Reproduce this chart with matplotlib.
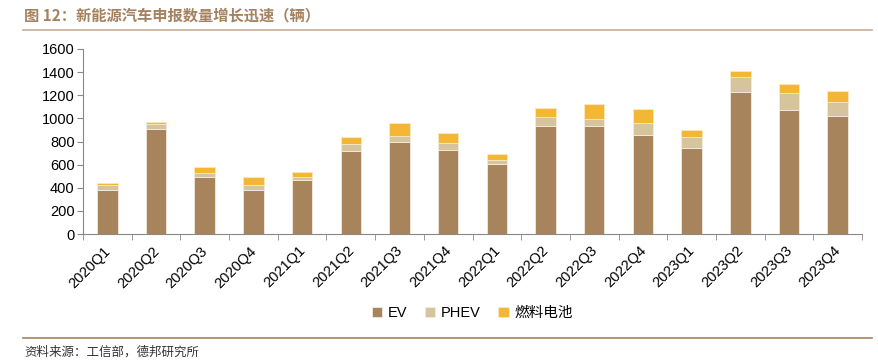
import numpy as np
import matplotlib.pyplot as plt
import matplotlib.transforms as mtransforms
from matplotlib.lines import Line2D

plt.rcParams['font.family'] = ['Liberation Sans', 'Noto Sans CJK SC', 'DejaVu Sans']

quarters = ["2020Q1", "2020Q2", "2020Q3", "2020Q4", "2021Q1", "2021Q2", "2021Q3", "2021Q4",
            "2022Q1", "2022Q2", "2022Q3", "2022Q4", "2023Q1", "2023Q2", "2023Q3", "2023Q4"]
ev = [380, 911, 490, 383, 470, 721, 793, 729, 608, 931, 937, 853, 747, 1231, 1075, 1023]
phev = [44, 37, 38, 38, 23, 60, 55, 55, 32, 78, 55, 104, 89, 124, 145, 119]
fuel_cell = [17, 21, 51, 75, 43, 58, 112, 92, 49, 81, 132, 121, 64, 58, 80, 95]

c_ev = "#a8845c"
c_phev = "#d5c49c"
c_fc = "#f4b635"
c_title = "#a5825f"

fig = plt.figure(figsize=(8.79, 3.6), dpi=100)
ax = fig.add_axes([83/879, 1 - 234/360, (862-83)/879, (234-49)/360])

x = np.arange(len(quarters))
w = 0.42
ax.bar(x, ev, w, color=c_ev, edgecolor="#f3ebe0", linewidth=0.6, label="EV")
ax.bar(x, phev, w, bottom=ev, color=c_phev, edgecolor="#f3ebe0", linewidth=0.6, label="PHEV")
ax.bar(x, fuel_cell, w, bottom=np.array(ev) + np.array(phev), color=c_fc,
       edgecolor="#fbe9c0", linewidth=0.6, label="燃料电池")

ax.set_xlim(-0.5, len(quarters) - 0.5)
ax.set_ylim(0, 1600)
ax.set_yticks(range(0, 1601, 200))
ax.tick_params(axis="y", labelsize=10.5, length=4, color="#888888", pad=2)
ax.set_xticks(x)
ax.set_xticklabels(quarters, rotation=45, ha="right", rotation_mode="anchor", fontsize=10.5)
ax.tick_params(axis="x", length=0, pad=7)
shift = mtransforms.ScaledTranslation(-4/100, 0, fig.dpi_scale_trans)
for lbl in ax.get_xticklabels():
    lbl.set_transform(lbl.get_transform() + shift)
ax.set_xticks(np.arange(-0.5, len(quarters)), minor=True)
ax.tick_params(axis="x", which="minor", length=4, color="#888888")
for s in ["top", "right"]:
    ax.spines[s].set_visible(False)
for s in ["left", "bottom"]:
    ax.spines[s].set_color("#888888")

ax.legend(loc="center", bbox_to_anchor=(0.5, (313 - 234) / -(234 - 49)), ncol=3,
          frameon=False, fontsize=10.5, handlelength=0.7, handleheight=0.7,
          handletextpad=0.4, columnspacing=1.2)

fig.text(24/879, 1 - 15/360, "图 12：新能源汽车申报数量增长迅速（辆）", color=c_title,
         fontsize=11, fontweight="bold", va="center", family=['Noto Sans CJK SC', 'DejaVu Sans'])
fig.add_artist(Line2D([23/879, 872/879], [1 - 30/360] * 2, color="#c8ae95", linewidth=1.2))
fig.add_artist(Line2D([23/879, 872/879], [1 - 338/360] * 2, color="#a5825f", linewidth=1.2))
fig.text(24/879, 1 - 352/360, "资料来源：工信部，德邦研究所", color="#333333",
         fontsize=9, va="center", family=['Noto Sans CJK SC', 'DejaVu Sans'])

fig.savefig("out.png", dpi=100)
